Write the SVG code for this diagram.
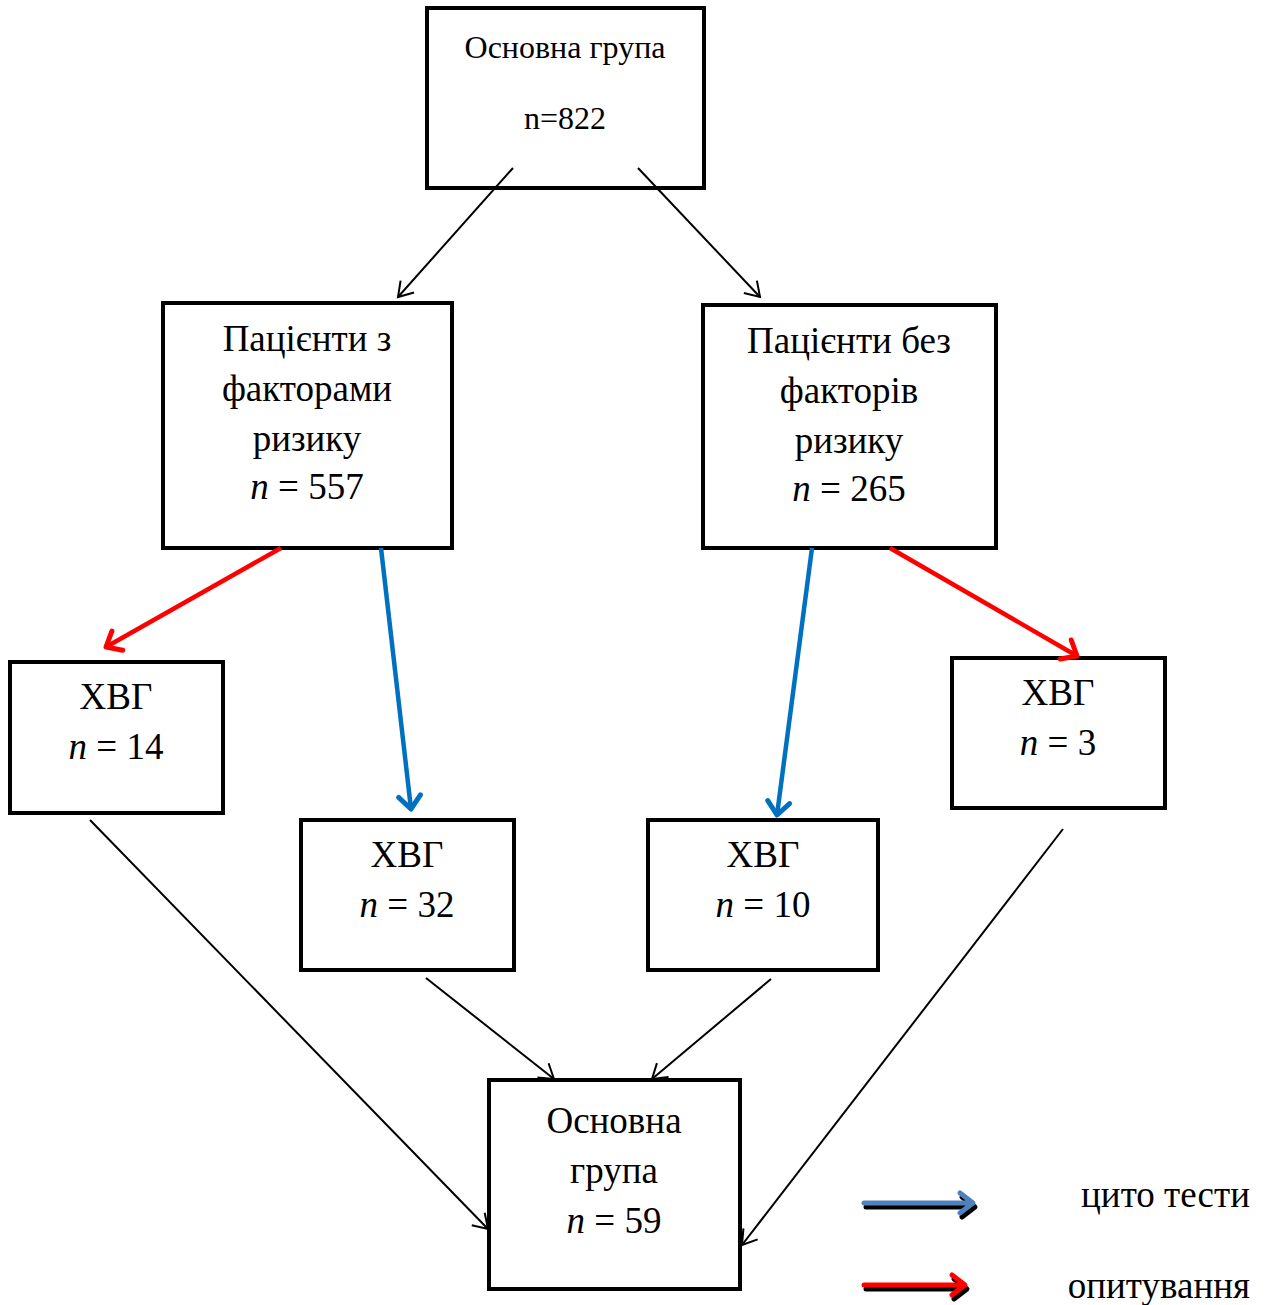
<svg xmlns="http://www.w3.org/2000/svg" width="1270" height="1305" viewBox="0 0 1270 1305">
<style>
.box{fill:#fff;stroke:#000;stroke-width:4}
.t{font-family:"Liberation Serif","Times New Roman",serif;font-size:37px;fill:#000;text-anchor:middle}
.ts{font-size:32px}
.te{text-anchor:end}
.c{fill:none;stroke:#000;stroke-width:2}
.red{fill:none;stroke:#FF0000;stroke-width:4.5}
.blue{fill:none;stroke:#0070C0;stroke-width:4.5}
</style>
<defs>
<marker id="ab" markerUnits="userSpaceOnUse" markerWidth="40" markerHeight="40" refX="20" refY="20" orient="auto" viewBox="0 0 40 40">
<path d="M6 11 L20 20 L6 29" fill="none" stroke="#000" stroke-width="2"/>
</marker>
<marker id="ar" markerUnits="userSpaceOnUse" markerWidth="40" markerHeight="40" refX="20" refY="20" orient="auto" viewBox="0 0 40 40">
<path d="M7 9 L20 20 L7 31" fill="none" stroke="#FF0000" stroke-width="5" stroke-linecap="round" stroke-linejoin="round"/>
</marker>
<marker id="ablu" markerUnits="userSpaceOnUse" markerWidth="40" markerHeight="40" refX="20" refY="20" orient="auto" viewBox="0 0 40 40">
<path d="M7 9 L20 20 L7 31" fill="none" stroke="#0070C0" stroke-width="5" stroke-linecap="round" stroke-linejoin="round"/>
</marker>
</defs>

<g id="n-top">
<rect class="box" x="427" y="8" width="277" height="180"/>
<text class="t ts" x="565" y="58">Основна група</text>
<text class="t ts" x="565" y="129">n=822</text>
</g>

<g id="n-risk">
<rect class="box" x="163" y="303" width="289" height="245"/>
<text class="t" x="307" y="351">Пацієнти з</text>
<text class="t" x="307" y="401">факторами</text>
<text class="t" x="307" y="451">ризику</text>
<text class="t" x="307" y="499"><tspan font-style="italic">n</tspan> = 557</text>
</g>

<g id="n-norisk">
<rect class="box" x="703" y="305" width="293" height="243"/>
<text class="t" x="849" y="353">Пацієнти без</text>
<text class="t" x="849" y="403">факторів</text>
<text class="t" x="849" y="453">ризику</text>
<text class="t" x="849" y="501"><tspan font-style="italic">n</tspan> = 265</text>
</g>

<g id="n-hvg14">
<rect class="box" x="10" y="662" width="213" height="151"/>
<text class="t" x="116" y="709">ХВГ</text>
<text class="t" x="116" y="759"><tspan font-style="italic">n</tspan> = 14</text>
</g>

<g id="n-hvg32">
<rect class="box" x="301" y="820" width="213" height="150"/>
<text class="t" x="407" y="867">ХВГ</text>
<text class="t" x="407" y="917"><tspan font-style="italic">n</tspan> = 32</text>
</g>

<g id="n-hvg10">
<rect class="box" x="648" y="820" width="230" height="150"/>
<text class="t" x="763" y="867">ХВГ</text>
<text class="t" x="763" y="917"><tspan font-style="italic">n</tspan> = 10</text>
</g>

<g id="n-hvg3">
<rect class="box" x="952" y="658" width="213" height="150"/>
<text class="t" x="1058" y="705">ХВГ</text>
<text class="t" x="1058" y="755"><tspan font-style="italic">n</tspan> = 3</text>
</g>

<g id="n-bottom">
<rect class="box" x="489" y="1080" width="251" height="209"/>
<text class="t" x="614" y="1133">Основна</text>
<text class="t" x="614" y="1183">група</text>
<text class="t" x="614" y="1233"><tspan font-style="italic">n</tspan> = 59</text>
</g>

<g id="connectors">
<line class="c" x1="513" y1="168" x2="398" y2="297" marker-end="url(#ab)"/>
<line class="c" x1="638" y1="168" x2="760" y2="297" marker-end="url(#ab)"/>
<line class="red" x1="281" y1="548" x2="106" y2="647" marker-end="url(#ar)"/>
<line class="blue" x1="381" y1="548" x2="411" y2="809" marker-end="url(#ablu)"/>
<line class="blue" x1="812" y1="548" x2="777" y2="815" marker-end="url(#ablu)"/>
<line class="red" x1="890" y1="548" x2="1077" y2="656" marker-end="url(#ar)"/>
<line class="c" x1="90" y1="820" x2="488" y2="1229" marker-end="url(#ab)"/>
<line class="c" x1="426" y1="978" x2="554" y2="1079" marker-end="url(#ab)"/>
<line class="c" x1="771" y1="979" x2="652" y2="1079" marker-end="url(#ab)"/>
<line class="c" x1="1063" y1="829" x2="742" y2="1245" marker-end="url(#ab)"/>
</g>

<g id="legend">
<g transform="translate(2,4)">
<path d="M864 1203 H972 M960 1193 L973 1203 L960 1213" fill="none" stroke="#000" stroke-width="5" stroke-linejoin="round" stroke-linecap="round"/>
</g>
<path d="M864 1203 H972 M960 1193 L973 1203 L960 1213" fill="none" stroke="#4F81BD" stroke-width="5" stroke-linejoin="round" stroke-linecap="round"/>
<g transform="translate(2,4)">
<path d="M864 1285 H964 M952 1275 L965 1285 L952 1295" fill="none" stroke="#000" stroke-width="5" stroke-linejoin="round" stroke-linecap="round"/>
</g>
<path d="M864 1285 H964 M952 1275 L965 1285 L952 1295" fill="none" stroke="#FF0000" stroke-width="5" stroke-linejoin="round" stroke-linecap="round"/>
<text class="t te" x="1250" y="1207">цито тести</text>
<text class="t te" x="1250" y="1298">опитування</text>
</g>
</svg>
